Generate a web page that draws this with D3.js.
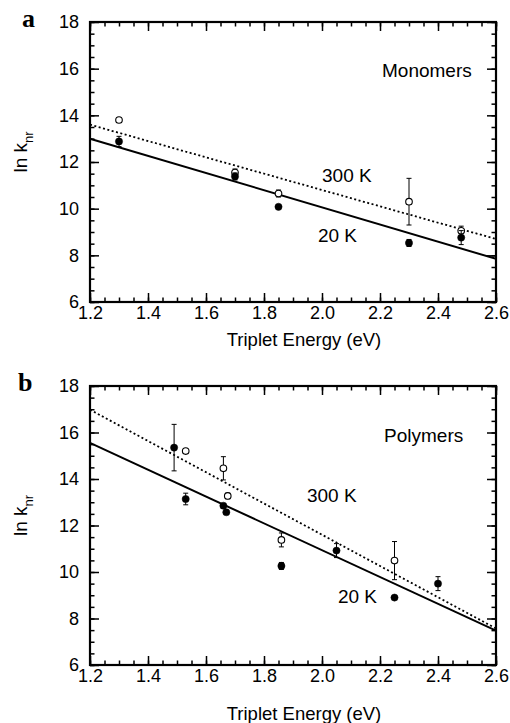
<!DOCTYPE html>
<html lang="en">
<head>
<meta charset="UTF-8">
<title>ln knr vs triplet energy</title>
<script src="https://cdn.jsdelivr.net/npm/d3@7/dist/d3.min.js"></script>
<style>
body { margin: 0; background: #fff; }
svg text { font-family: "Liberation Sans", Arial, Helvetica, sans-serif; fill: #000; }
.tick text { font-size: 18px; }
.note { font-size: 19px; }
.panel { font-family: "Liberation Serif", "Times New Roman", serif !important; font-weight: bold; font-size: 26px; }
</style>
</head>
<body>
<script>
// axis ticks
const xTicks = [1.2, 1.4, 1.6, 1.8, 2.0, 2.2, 2.4, 2.6];
const yTicks = [6, 8, 10, 12, 14, 16, 18];
const xMinor = d3.range(1.2, 2.6001, 0.05);
const yMinor = d3.range(6, 18.001, 0.5);

// panel a : monomers
const monoE300 = [1.30, 1.70, 1.85, 2.30, 2.48];
const monoK300 = [13.8, 11.55, 10.65, 10.3, 9.05];
const monoErr300 = [0, 0.15, 0.15, 1.0, 0.2];
const monoE20 = [1.30, 1.70, 1.85, 2.30, 2.48];
const monoK20 = [12.88, 11.38, 10.08, 8.53, 8.76];
const monoErr20 = [0.22, 0.15, 0, 0.15, 0.3];
const monoFit300 = [13.6, 8.7];   // at 1.2 and 2.6 eV
const monoFit20 = [13.0, 7.85];

// panel b : polymers
const polyE300 = [1.53, 1.66, 1.675, 1.86, 2.25];
const polyK300 = [15.2, 14.46, 13.27, 11.38, 10.49];
const polyErr300 = [0, 0.5, 0.12, 0.3, 0.82];
const polyE20 = [1.49, 1.53, 1.66, 1.67, 1.86, 2.05, 2.25, 2.40];
const polyK20 = [15.35, 13.14, 12.85, 12.57, 10.26, 10.92, 8.9, 9.5];
const polyErr20 = [1.0, 0.25, 0.1, 0.1, 0.15, 0.3, 0.08, 0.3];
const polyFit300 = [16.98, 7.57];
const polyFit20 = [15.55, 7.48];

const fitX = [1.2, 2.6];

let svg = d3.select('body').append('svg')
    .attr('width', 510)
    .attr('height', 723);

function drawPanel(opt) {
    let x = d3.scaleLinear().domain([1.2, 2.6]).range([90, 496]);
    let y = d3.scaleLinear().domain([6, 18]).range([opt.bottom, opt.top]);
    let g = svg.append('g');

    // minor ticks
    g.append('g').attr('transform', `translate(0,${opt.bottom})`)
        .call(d3.axisBottom(x).tickValues(xMinor).tickSize(-4.5).tickFormat(''));
    g.append('g').attr('transform', `translate(0,${opt.top})`)
        .call(d3.axisTop(x).tickValues(xMinor).tickSize(-4.5).tickFormat(''));
    g.append('g').attr('transform', 'translate(90,0)')
        .call(d3.axisLeft(y).tickValues(yMinor).tickSize(-4.5).tickFormat(''));
    g.append('g').attr('transform', 'translate(496,0)')
        .call(d3.axisRight(y).tickValues(yMinor).tickSize(-4.5).tickFormat(''));

    // major ticks
    g.append('g').attr('transform', `translate(0,${opt.bottom})`)
        .call(d3.axisBottom(x).tickValues(xTicks).tickSize(-9).tickPadding(4).tickFormat(d3.format('.1f')));
    g.append('g').attr('transform', `translate(0,${opt.top})`)
        .call(d3.axisTop(x).tickValues(xTicks).tickSize(-9).tickFormat(''));
    g.append('g').attr('transform', 'translate(90,0)')
        .call(d3.axisLeft(y).tickValues(yTicks).tickSize(-9).tickPadding(11).tickFormat(d3.format('d')));
    g.append('g').attr('transform', 'translate(496,0)')
        .call(d3.axisRight(y).tickValues(yTicks).tickSize(-9).tickFormat(''));

    g.selectAll('.domain').remove();
    g.selectAll('.tick line').attr('stroke', '#000').attr('stroke-width', 1.5);
    g.selectAll('.tick text').attr('font-family', null).attr('font-size', null);

    g.append('rect')
        .attr('x', 90).attr('y', opt.top)
        .attr('width', 406).attr('height', opt.bottom - opt.top)
        .attr('fill', 'none').attr('stroke', '#000').attr('stroke-width', 2.2);

    // fit lines
    let line = d3.line().x(d => x(d[0])).y(d => y(d[1]));
    g.append('path')
        .attr('d', line(d3.zip(fitX, opt.fit300)))
        .attr('fill', 'none').attr('stroke', '#000').attr('stroke-width', 1.8)
        .attr('stroke-dasharray', '2,2.5');
    g.append('path')
        .attr('d', line(d3.zip(fitX, opt.fit20)))
        .attr('fill', 'none').attr('stroke', '#000').attr('stroke-width', 2);

    // error bars + points
    function points(E, K, err, open) {
        let pts = d3.zip(E, K, err);
        let eb = g.append('g').selectAll('g').data(pts.filter(d => d[2] > 0)).enter().append('g')
            .attr('stroke', '#000').attr('stroke-width', 1);
        eb.append('line')
            .attr('x1', d => x(d[0])).attr('x2', d => x(d[0]))
            .attr('y1', d => y(d[1] - d[2])).attr('y2', d => y(d[1] + d[2]));
        eb.append('line')
            .attr('x1', d => x(d[0]) - 2.5).attr('x2', d => x(d[0]) + 2.5)
            .attr('y1', d => y(d[1] + d[2])).attr('y2', d => y(d[1] + d[2]));
        eb.append('line')
            .attr('x1', d => x(d[0]) - 2.5).attr('x2', d => x(d[0]) + 2.5)
            .attr('y1', d => y(d[1] - d[2])).attr('y2', d => y(d[1] - d[2]));
        g.append('g').selectAll('circle').data(pts).enter().append('circle')
            .attr('cx', d => x(d[0])).attr('cy', d => y(d[1]))
            .attr('r', open ? 3.3 : 3.6)
            .attr('fill', open ? '#fff' : '#000')
            .attr('stroke', '#000').attr('stroke-width', open ? 1.1 : 0.5);
    }
    points(opt.e300, opt.k300, opt.err300, true);
    points(opt.e20, opt.k20, opt.err20, false);

    // annotations
    g.append('text').attr('class', 'note')
        .attr('x', x(opt.name[0])).attr('y', y(opt.name[1])).text(opt.name[2]);
    g.append('text').attr('class', 'note')
        .attr('x', x(opt.lab300[0])).attr('y', y(opt.lab300[1])).text('300 K');
    g.append('text').attr('class', 'note')
        .attr('x', x(opt.lab20[0])).attr('y', y(opt.lab20[1])).text('20 K');

    // axis titles
    g.append('text')
        .attr('x', 304).attr('y', opt.xlabY)
        .attr('text-anchor', 'middle').attr('font-size', 18.5)
        .text('Triplet Energy (eV)');
    let yl = g.append('text')
        .attr('transform', `translate(27,${(opt.top + opt.bottom) / 2 - 10}) rotate(-90)`)
        .attr('text-anchor', 'middle').attr('font-size', 19);
    yl.append('tspan').text('ln k');
    yl.append('tspan').attr('font-size', 13).attr('dy', 6).text('nr');

    svg.append('text').attr('class', 'panel')
        .attr('x', opt.letterX).attr('y', opt.top + 5)
        .text(opt.letter);
}

drawPanel({
    top: 22, bottom: 302, letter: 'a', letterX: 22, xlabY: 346,
    e300: monoE300, k300: monoK300, err300: monoErr300,
    e20: monoE20, k20: monoK20, err20: monoErr20,
    fit300: monoFit300, fit20: monoFit20,
    name: [2.207, 15.64, 'Monomers'], lab300: [2.0, 11.14], lab20: [1.986, 8.57]
});

drawPanel({
    top: 386, bottom: 665, letter: 'b', letterX: 18, xlabY: 720,
    e300: polyE300, k300: polyK300, err300: polyErr300,
    e20: polyE20, k20: polyK20, err20: polyErr20,
    fit300: polyFit300, fit20: polyFit20,
    name: [2.214, 15.59, 'Polymers'], lab300: [1.948, 13.01], lab20: [2.055, 8.67]
});
</script>
</body>
</html>
